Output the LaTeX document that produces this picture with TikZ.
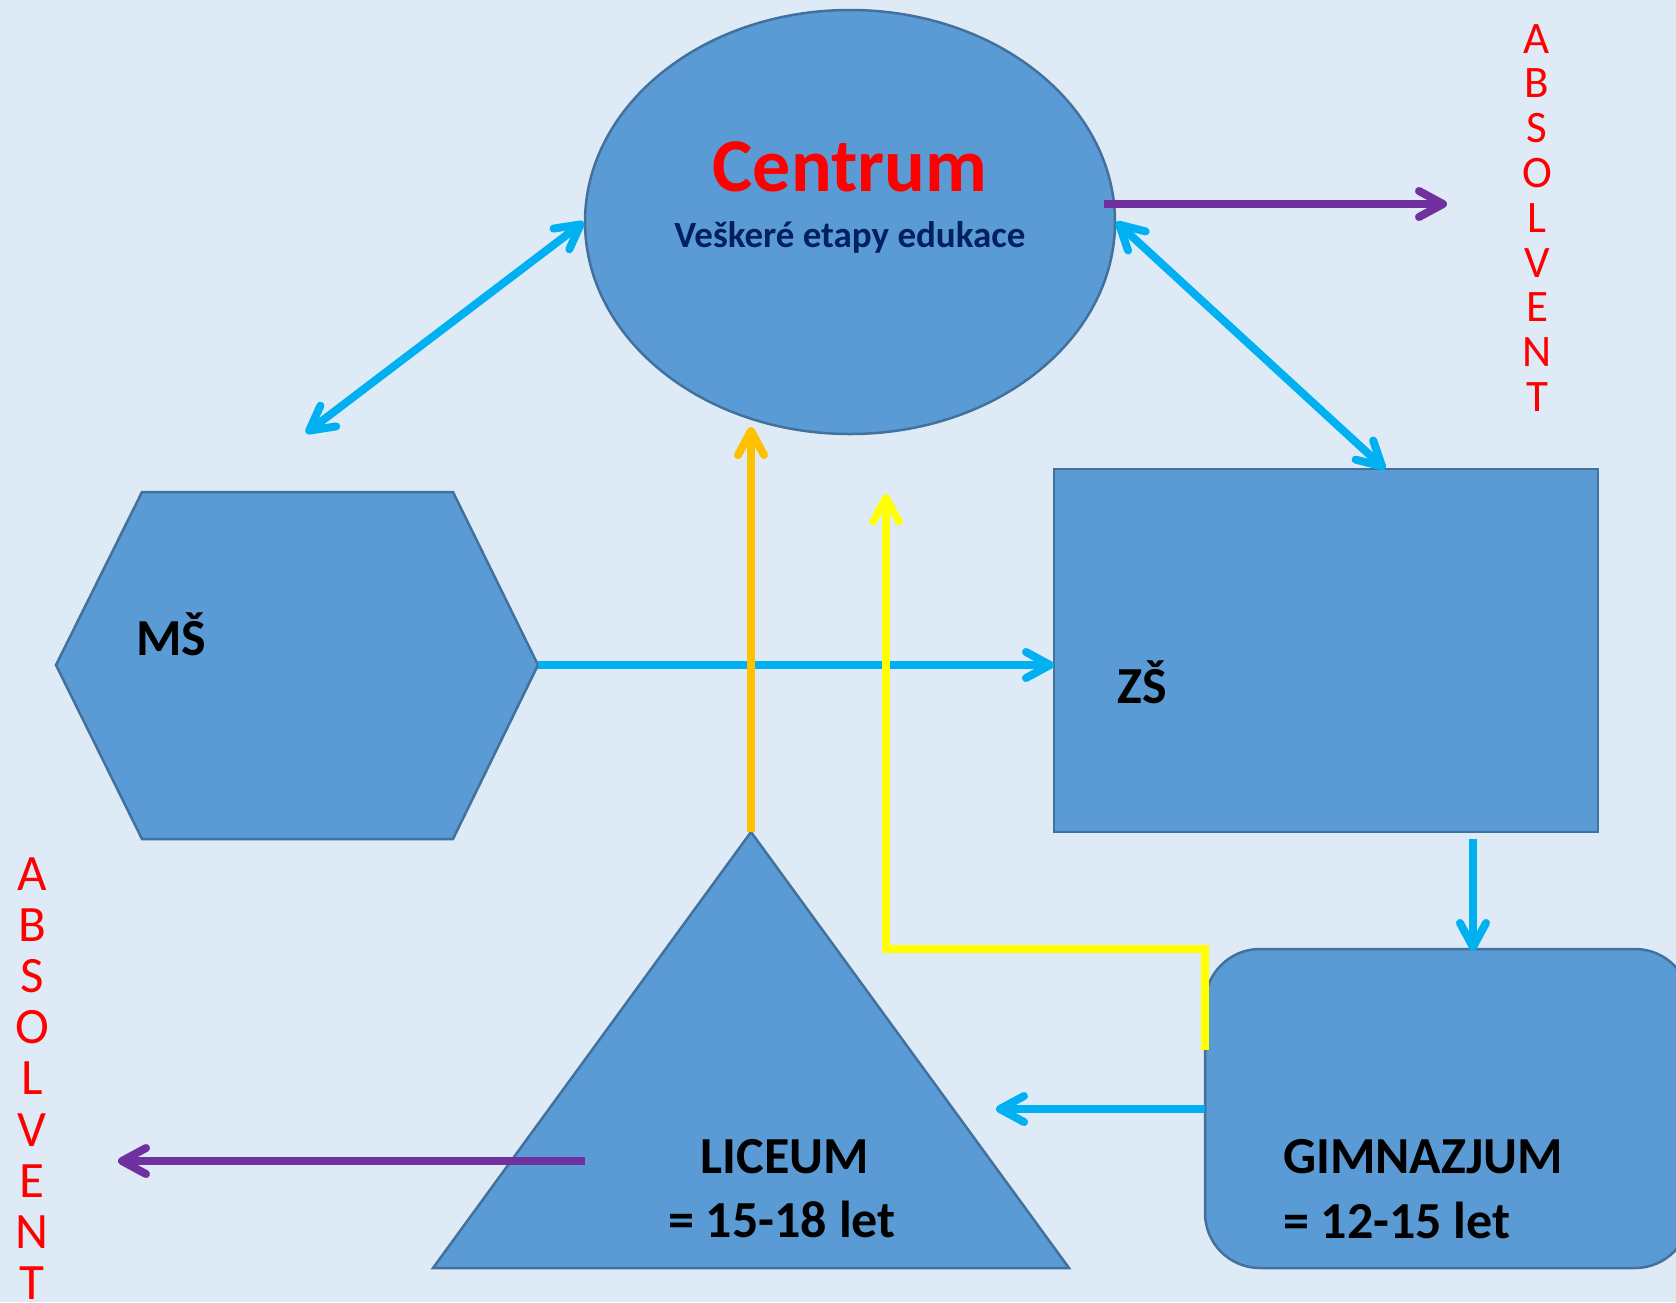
\documentclass[tikz,border=0pt]{standalone}
\usepackage{fontspec}
\setmainfont{Carlito}
\usetikzlibrary{arrows.meta,shapes.geometric}
\definecolor{bg}{HTML}{DEEBF7}
\definecolor{shapefill}{HTML}{5B9BD5}
\definecolor{shapeline}{HTML}{41719C}
\definecolor{cyanarrow}{HTML}{00B0F0}
\definecolor{purplearrow}{HTML}{7030A0}
\definecolor{orangearrow}{HTML}{FFC000}
\definecolor{yellowarrow}{HTML}{FFFF00}
\definecolor{navytext}{HTML}{002060}
\begin{document}
\begin{tikzpicture}[x=1pt,y=-1pt,
  >={Straight Barb[length=24pt,width=26pt,round]},
  shapebox/.style={fill=shapefill,draw=shapeline,line width=2.5pt},
  cyanconn/.style={draw=cyanarrow,line width=8pt},
  purpleconn/.style={draw=purplearrow,line width=8pt},
  orangeconn/.style={draw=orangearrow,line width=8pt},
  yellowconn/.style={draw=yellowarrow,line width=7.5pt},
  boldlabel/.style={inner sep=0pt,font=\bfseries\fontsize{52}{64}\selectfont,text=black},
  absletter/.style={inner sep=0pt,anchor=base,text=red},
]
% background / canvas
\fill[bg] (0,0) rectangle (1676,1302);
\useasboundingbox (0,0) rectangle (1676,1302);

% shapes
\node[shapebox,ellipse,minimum width=530pt,minimum height=424pt,inner sep=0pt] (centrum) at (850,222) {};
\node[shapebox,rectangle,minimum width=544pt,minimum height=363pt,inner sep=0pt] (zs) at (1326,650.5) {};
\node[shapebox,rectangle,rounded corners=55pt,minimum width=485pt,minimum height=319pt,inner sep=0pt] (gim) at (1447.5,1108.5) {};
\coordinate (msW) at (56,665);
\coordinate (msE) at (538,665);
\path[shapebox] (msW) -- (142,492) -- (453,492) -- (msE) -- (453,839) -- (142,839) -- cycle;
\coordinate (licApex) at (751,832);
\path[shapebox] (licApex) -- (1069,1268) -- (433,1268) -- cycle;

% connector end points
\coordinate (msTip) at (306,433);
\coordinate (zsTop) at (1385,469);
\coordinate (zsLeft) at (1054,665);
\coordinate (zsBottom) at (1473,839);
\coordinate (gimTop) at (1473,951);
\coordinate (gimLeft) at (1205,1109);
\coordinate (licRight) at (996,1109);
\coordinate (absRstart) at (1104,204);
\coordinate (absRtip) at (1447,204);
\coordinate (absLstart) at (585,1161);
\coordinate (absLtip) at (118,1161);
\coordinate (centrumBottom) at (751,427);
\coordinate (yellowStart) at (1205,1050);
\coordinate (yellowTip) at (886,494);

% connectors
\draw[cyanconn,<->] (msTip) -- (centrum.west);
\draw[cyanconn,<->] (centrum.east) -- (zsTop);
\draw[cyanconn,->] (msE) -- (zsLeft);
\draw[cyanconn,->] (zsBottom) -- (gimTop);
\draw[cyanconn,->] (gimLeft) -- (licRight);
\draw[purpleconn,->] (absRstart) -- (absRtip);
\draw[purpleconn,->] (absLstart) -- (absLtip);
\draw[orangeconn,->] (licApex) -- (centrumBottom);
\draw[yellowconn,->] (yellowStart) |- (886,949) -- (yellowTip);

% texts
\node[anchor=base,inner sep=0pt,text=red,font=\bfseries\fontsize{76}{80}\selectfont] (centrumtitle) at (850,191) {Centrum};
\node[anchor=base,inner sep=0pt,text=navytext,font=\bfseries\fontsize{37}{40}\selectfont] (centrumsub) at (850,247) {Veškeré etapy edukace};
\node[boldlabel,anchor=base west] (mslabel) at (136,655) {MŠ};
\node[boldlabel,anchor=base west] (zslabel) at (1117,703) {ZŠ};
\node[boldlabel,anchor=base] (liclabelA) at (785,1173) {LICEUM};
\node[boldlabel,anchor=base] (liclabelB) at (782,1237) {= 15-18 let};
\node[boldlabel,anchor=base west] (gimlabelA) at (1283,1173) {GIMNAZJUM};
\node[boldlabel,anchor=base west] (gimlabelB) at (1283,1238) {= 12-15 let};

\foreach \ch [count=\i from 0] in {A,B,S,O,L,V,E,N,T}{
  \node[absletter,font=\fontsize{45}{45}\selectfont] (absR\i) at (1537,{53+\i*44.8}) {\ch};
  \node[absletter,font=\fontsize{51}{51}\selectfont] (absL\i) at (32,{890+\i*51.2}) {\ch};
}
\end{tikzpicture}
\end{document}
